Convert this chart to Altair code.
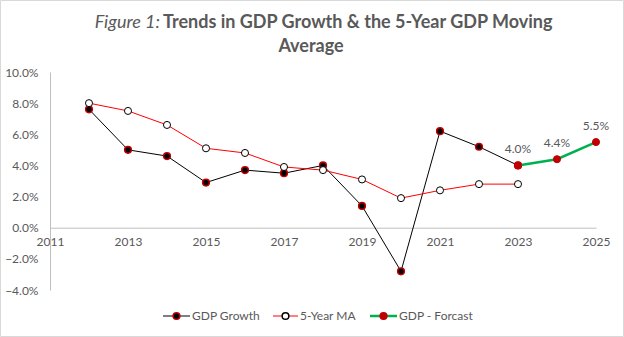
import altair as alt
import pandas as pd

# ---- data ----
years = [2012, 2013, 2014, 2015, 2016, 2017, 2018, 2019, 2020, 2021, 2022, 2023]
gdp_growth = [7.6, 5.0, 4.6, 2.9, 3.7, 3.5, 4.0, 1.4, -2.8, 6.2, 5.2, 4.0]
ma5 = [8.0, 7.5, 6.6, 5.1, 4.8, 3.9, 3.7, 3.1, 1.9, 2.4, 2.8, 2.8]
forecast_years = [2023, 2024, 2025]
forecast = [4.0, 4.4, 5.5]
x_ticks = [2011, 2013, 2015, 2017, 2019, 2021, 2023, 2025]
y_ticks = [-4, -2, 0, 2, 4, 6, 8, 10]
series_names = ["GDP Growth", "5-Year MA", "GDP - Forcast"]
title_italic = "Figure 1:"
title_bold_1 = "Trends in GDP Growth & the 5-Year GDP Moving"
title_bold_2 = "Average"

FONT = "Lato"
GREY = "#595959"
W, H = 546, 218

df_g = pd.DataFrame({"year": years, "v": gdp_growth})
df_m = pd.DataFrame({"year": years, "v": ma5})
df_f = pd.DataFrame({"year": forecast_years, "v": forecast})
df_f["label"] = [f"{v:.1f}%" for v in forecast]

xs = alt.Scale(domain=[2011, 2025], nice=False, zero=False)
ys = alt.Scale(domain=[-4, 10], nice=False, zero=False)

zero_offset = -(H * 4 / 14)

xenc = alt.X("year:Q", scale=xs, axis=alt.Axis(
    values=x_ticks, format="d", title=None, grid=False, ticks=False,
    domainColor="#bfbfbf", offset=zero_offset, labelPadding=9,
    labelOverlap=False, labelFlush=False, labelBound=False,
    labelFont=FONT, labelFontSize=12, labelColor=GREY))
yenc = alt.Y("v:Q", scale=ys, axis=alt.Axis(
    values=y_ticks, title=None, grid=False, ticks=False,
    domainColor="#bfbfbf", labelPadding=12,
    labelOverlap=False, labelFlush=False, labelBound=False,
    labelExpr="format(datum.value, '.1f') + '%'",
    labelFont=FONT, labelFontSize=12, labelColor=GREY))

g_line = alt.Chart(df_g).mark_line(color="#000000", strokeWidth=1).encode(x=xenc, y=yenc)
g_pts = alt.Chart(df_g).mark_point(filled=True, fill="#000000", stroke="#c00000",
                                   strokeWidth=1.5, size=45, opacity=1).encode(x=xenc, y=yenc)
m_line = alt.Chart(df_m).mark_line(color="#ff0000", strokeWidth=1).encode(x=xenc, y=yenc)
m_pts = alt.Chart(df_m).mark_point(filled=True, fill="#ffffff", stroke="#000000",
                                   strokeWidth=1, size=50, opacity=1).encode(x=xenc, y=yenc)
f_line = alt.Chart(df_f).mark_line(color="#00b050", strokeWidth=2.5).encode(x=xenc, y=yenc)
f_pts = alt.Chart(df_f).mark_point(filled=True, fill="#c00000", stroke="#c00000",
                                   strokeWidth=1, size=50, opacity=1).encode(x=xenc, y=yenc)
f_lbl = alt.Chart(df_f).mark_text(font=FONT, fontSize=12, color=GREY, dy=-16,
                                  align="center", baseline="middle").encode(
    x=xenc, y=yenc, text="label:N")

# title
t1 = alt.Chart(pd.DataFrame({"t": [title_italic]})).mark_text(
    font=FONT, fontSize=18, fontStyle="italic", fontWeight="normal", color=GREY,
    align="right", baseline="middle").encode(
    x=alt.value(110), y=alt.value(-49), text="t:N")
t2 = alt.Chart(pd.DataFrame({"t": [title_bold_1]})).mark_text(
    font=FONT, fontSize=18, fontWeight="bold", color=GREY,
    align="left", baseline="middle").encode(
    x=alt.value(113), y=alt.value(-49), text="t:N")
t3 = alt.Chart(pd.DataFrame({"t": [title_bold_2]})).mark_text(
    font=FONT, fontSize=18, fontWeight="bold", color=GREY,
    align="center", baseline="middle").encode(
    x=alt.value(261), y=alt.value(-25), text="t:N")

# legend
LY = 244
leg_specs = [
    (series_names[0], 113, 140, "#000000", 1, "#000000", "#c00000"),
    (series_names[1], 223, 248, "#ff0000", 1, "#ffffff", "#000000"),
    (series_names[2], 320, 347, "#00b050", 2.5, "#c00000", "#c00000"),
]
leg_layers = []
for name, x1, x2, lc, lw, pf, ps in leg_specs:
    d = pd.DataFrame({"t": [name]})
    leg_layers.append(alt.Chart(d).mark_rule(color=lc, strokeWidth=lw).encode(
        x=alt.value(x1), x2=alt.value(x2), y=alt.value(LY)))
    leg_layers.append(alt.Chart(d).mark_point(filled=True, fill=pf, stroke=ps,
                                              strokeWidth=1.5, size=45, opacity=1).encode(
        x=alt.value((x1 + x2) / 2), y=alt.value(LY)))
    leg_layers.append(alt.Chart(d).mark_text(font=FONT, fontSize=12, color=GREY,
                                             align="left", baseline="middle").encode(
        x=alt.value(x2 + 2), y=alt.value(LY), text="t:N"))

border = alt.Chart(pd.DataFrame({"t": [0]})).mark_rect(
    fill=None, stroke="#d9d9d9", strokeWidth=1).encode(
    x=alt.value(-49.5), x2=alt.value(573.5), y=alt.value(-71.5), y2=alt.value(264.5))

chart = alt.layer(
    g_line, g_pts, m_line, m_pts, f_line, f_pts, f_lbl, t1, t2, t3, *leg_layers, border
).properties(
    width=W, height=H,
    autosize=alt.AutoSizeParams(type="none"),
    padding={"left": 50, "top": 72, "right": 28, "bottom": 47},
    background="#ffffff",
).configure_view(stroke=None).configure_axis(labelOverlap=False)

chart.save("out.html", embed_options={"renderer": "svg", "actions": False})
